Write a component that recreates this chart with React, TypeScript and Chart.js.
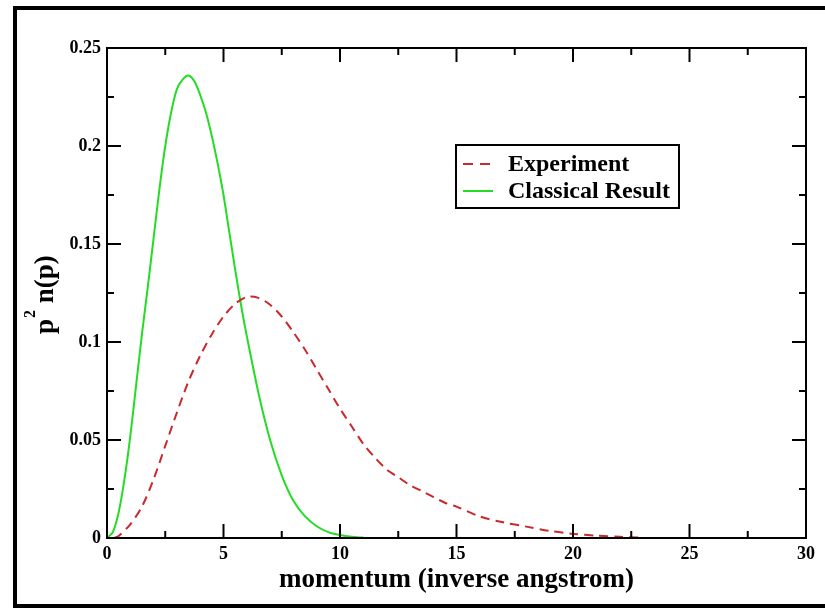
import React, { useEffect, useRef } from 'react';
import { Chart, registerables } from 'chart.js';

Chart.register(...registerables);

const seriesNames = ['Experiment', 'Classical Result'];
const xAxisTitle = 'momentum (inverse angstrom)';
const yAxisTitleMain = 'p';
const yAxisTitleSup = '2';
const yAxisTitleRest = ' n(p)';

const experimentX = [0.3, 0.5, 1.0, 1.5, 2.0, 2.5, 3.0, 3.5, 4.0, 4.5, 5.0, 5.5, 6.0, 6.5, 7.0, 7.5, 8.0, 8.5, 9.0, 9.5, 10, 10.5, 11, 11.5, 12, 12.5, 13, 13.5, 14, 14.5, 15, 16, 17, 18, 19, 20, 21, 22, 22.8];
const experimentY = [0, 0.001, 0.007, 0.016, 0.030, 0.047, 0.064, 0.080, 0.093, 0.104, 0.113, 0.1195, 0.123, 0.1225, 0.119, 0.113, 0.105, 0.096, 0.086, 0.076, 0.066, 0.057, 0.048, 0.041, 0.035, 0.031, 0.027, 0.024, 0.021, 0.018, 0.016, 0.011, 0.008, 0.0058, 0.0036, 0.0021, 0.0012, 0.0006, 0.0003];

const classicalX = [0, 0.25, 0.5, 0.75, 1.0, 1.25, 1.5, 1.75, 2.0, 2.25, 2.5, 2.75, 3.0, 3.25, 3.5, 3.75, 4.0, 4.25, 4.5, 4.75, 5.0, 5.25, 5.5, 5.75, 6.0, 6.5, 7.0, 7.5, 8.0, 8.5, 9.0, 9.5, 10.0, 10.5, 11.0];
const classicalY = [0, 0.003, 0.013, 0.030, 0.052, 0.078, 0.104, 0.128, 0.153, 0.178, 0.200, 0.217, 0.229, 0.234, 0.236, 0.233, 0.226, 0.217, 0.205, 0.191, 0.175, 0.156, 0.137, 0.119, 0.103, 0.074, 0.050, 0.032, 0.019, 0.011, 0.006, 0.003, 0.0015, 0.0006, 0.0002];

const xMin = 0;
const xMax = 30;
const xStep = 5;
const yMin = 0;
const yMax = 0.25;
const yStep = 0.05;

const RED = '#c9282c';
const GREEN = '#25dc25';
const FONT = '"Liberation Serif", "Times New Roman", serif';

const decorPlugin = {
  id: 'decor',
  beforeDraw(chart: any) {
    const ctx = chart.ctx;
    ctx.save();
    ctx.fillStyle = '#ffffff';
    ctx.fillRect(0, 0, chart.width, chart.height);
    ctx.fillStyle = '#000000';
    ctx.fillRect(13, 6, chart.width - 13, 4);
    ctx.fillRect(13, 6, 4, chart.height - 6);
    ctx.fillRect(13, 604, chart.width - 13, 4);
    ctx.restore();
  },
  afterDatasetsDraw(chart: any) {
    const ctx = chart.ctx;
    const { left, right, top, bottom } = chart.chartArea;
    const xs = chart.scales.x;
    const ys = chart.scales.y;
    ctx.save();
    ctx.strokeStyle = '#000';
    ctx.lineWidth = 2;
    ctx.setLineDash([]);
    ctx.strokeRect(left, top, right - left, bottom - top);
    const line = (x1: number, y1: number, x2: number, y2: number) => {
      ctx.beginPath();
      ctx.moveTo(x1, y1);
      ctx.lineTo(x2, y2);
      ctx.stroke();
    };
    const major = 14;
    const minor = 7;
    const xt = xs.ticks.map((t: any) => t.value);
    xt.forEach((v: number, i: number) => {
      const px = xs.getPixelForValue(v);
      line(px, bottom, px, bottom - major);
      line(px, top, px, top + major);
      if (i < xt.length - 1) {
        const mx = xs.getPixelForValue((v + xt[i + 1]) / 2);
        line(mx, bottom, mx, bottom - minor);
        line(mx, top, mx, top + minor);
      }
    });
    const yt = ys.ticks.map((t: any) => t.value);
    yt.forEach((v: number, i: number) => {
      const py = ys.getPixelForValue(v);
      line(left, py, left + major, py);
      line(right, py, right - major, py);
      if (i < yt.length - 1) {
        const my = ys.getPixelForValue((v + yt[i + 1]) / 2);
        line(left, my, left + minor, my);
        line(right, my, right - minor, my);
      }
    });

    ctx.fillStyle = '#000';
    ctx.font = `bold 27px ${FONT}`;
    ctx.textAlign = 'center';
    ctx.textBaseline = 'alphabetic';
    ctx.fillText(xAxisTitle, (left + right) / 2, 587);

    ctx.save();
    ctx.translate(53, 334);
    ctx.rotate(-Math.PI / 2);
    ctx.textAlign = 'left';
    ctx.font = `bold 27px ${FONT}`;
    ctx.fillText(yAxisTitleMain, 0, 0);
    const w1 = ctx.measureText(yAxisTitleMain).width;
    ctx.font = `bold 16px ${FONT}`;
    ctx.fillText(yAxisTitleSup, w1 + 1, -18);
    const w2 = ctx.measureText(yAxisTitleSup).width;
    ctx.font = `bold 27px ${FONT}`;
    ctx.fillText(yAxisTitleRest, w1 + 1 + w2, 0);
    ctx.restore();

    ctx.lineWidth = 2;
    ctx.strokeRect(456, 145, 223, 63);
    ctx.font = `bold 24px ${FONT}`;
    ctx.textAlign = 'left';
    ctx.textBaseline = 'middle';
    const entries = [
      { name: seriesNames[0], color: RED, dash: [10, 7], y: 164 },
      { name: seriesNames[1], color: GREEN, dash: [], y: 191 },
    ];
    entries.forEach((e) => {
      ctx.strokeStyle = e.color;
      ctx.setLineDash(e.dash);
      line(463, e.y, 493, e.y);
      ctx.setLineDash([]);
      ctx.fillStyle = '#000';
      ctx.fillText(e.name, 508, e.y + 1);
    });
    ctx.restore();
  },
};

export default function App() {
  const ref = useRef<HTMLCanvasElement | null>(null);
  useEffect(() => {
    if (!ref.current) return;
    const chart = new Chart(ref.current, {
      type: 'line',
      data: {
        datasets: [
          {
            label: seriesNames[0],
            data: experimentX.map((x, i) => ({ x, y: experimentY[i] })),
            borderColor: RED,
            borderWidth: 2,
            borderDash: [9, 6],
            pointRadius: 0,
            fill: false,
            tension: 0.3,
          },
          {
            label: seriesNames[1],
            data: classicalX.map((x, i) => ({ x, y: classicalY[i] })),
            borderColor: GREEN,
            borderWidth: 2,
            pointRadius: 0,
            fill: false,
            tension: 0.3,
          },
        ],
      },
      options: {
        animation: false,
        responsive: false,
        devicePixelRatio: 1,
        layout: { padding: { left: 0, right: 19, top: 48, bottom: 0 } },
        plugins: { legend: { display: false }, tooltip: { enabled: false }, title: { display: false } },
        scales: {
          x: {
            type: 'linear',
            min: xMin,
            max: xMax,
            grid: { display: false, drawTicks: false },
            border: { display: false },
            ticks: {
              stepSize: xStep,
              padding: 6,
              color: '#000',
              maxRotation: 0,
              font: { family: FONT, size: 18, weight: 'bold' },
            },
            afterFit: (s: any) => { s.height = 70; },
          },
          y: {
            type: 'linear',
            min: yMin,
            max: yMax,
            grid: { display: false, drawTicks: false },
            border: { display: false },
            ticks: {
              stepSize: yStep,
              padding: 6,
              color: '#000',
              font: { family: FONT, size: 18, weight: 'bold' },
              callback: (v: any) => String(Math.round(Number(v) * 1000) / 1000),
            },
            afterFit: (s: any) => { s.width = 107; },
          },
        },
      } as any,
      plugins: [decorPlugin],
    });
    return () => chart.destroy();
  }, []);
  return (
    <div style={{ position: 'absolute', left: 0, top: 0, width: 825, height: 608 }}>
      <canvas ref={ref} width={825} height={608} style={{ display: 'block' }} />
    </div>
  );
}
